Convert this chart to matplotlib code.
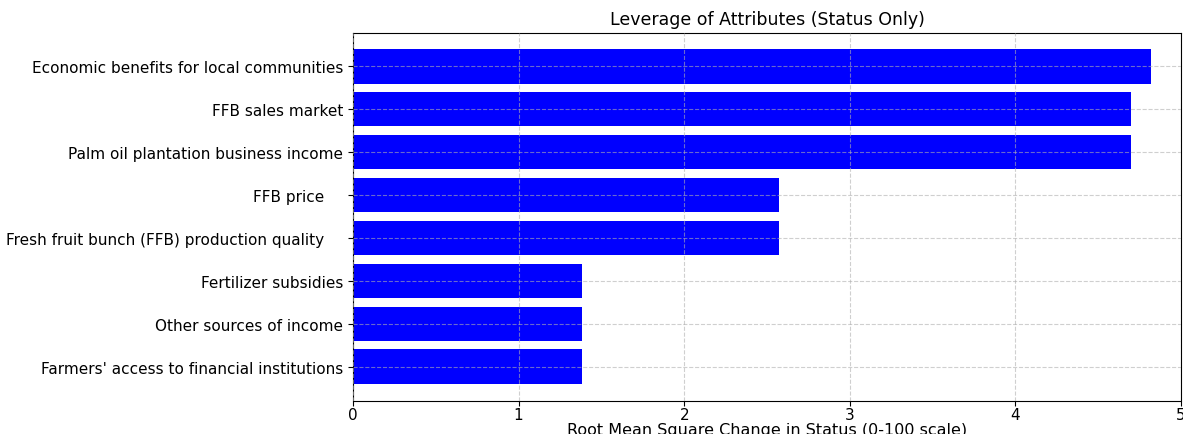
import matplotlib
matplotlib.use("Agg")
import matplotlib.pyplot as plt

attributes = [
    "Economic benefits for local communities",
    "FFB sales market",
    "Palm oil plantation business income",
    "FFB price    ",
    "Fresh fruit bunch (FFB) production quality    ",
    "Fertilizer subsidies",
    "Other sources of income",
    "Farmers' access to financial institutions",
]
rms_change = [4.82, 4.696, 4.696, 2.573, 2.573, 1.382, 1.382, 1.382]

fig = plt.figure(figsize=(11.83, 4.35), dpi=100)
ax = fig.add_axes([353/1183, 33.5/435, 828/1183, 368/435])
ax.barh(attributes, rms_change, color="blue", height=0.8)
ax.invert_yaxis()
ax.set_xlim(0, 5)
ax.grid(True, linestyle="--", alpha=0.6, zorder=3)
ax.set_axisbelow(False)
ax.tick_params(labelsize=11)
ax.tick_params(axis="x", pad=1.5)
ax.set_xlabel("Root Mean Square Change in Status (0-100 scale)", fontsize=11.5, labelpad=0)
ax.set_title("Leverage of Attributes (Status Only)", fontsize=12.5)
fig.savefig("out.png", dpi=100)
